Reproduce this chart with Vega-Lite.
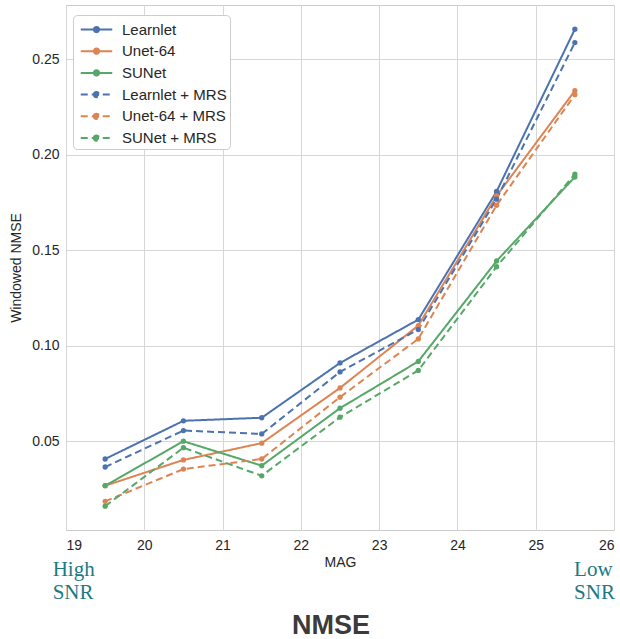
{
  "$schema": "https://vega.github.io/schema/vega-lite/v6.json",
  "width": 548,
  "height": 525,
  "autosize": {"type": "none"},
  "padding": {"left": 66, "top": 5, "right": 6, "bottom": 109},
  "background": "white",
  "title": {
    "text": "NMSE",
    "orient": "bottom",
    "anchor": "middle",
    "font": "Liberation Sans",
    "fontSize": 27,
    "fontWeight": "bold",
    "color": "#3d3a3a",
    "offset": 10,
    "dx": -9
  },
  "config": {
    "view": {"stroke": "#cccccc", "strokeWidth": 1},
    "axis": {
      "labelFont": "Liberation Sans",
      "titleFont": "Liberation Sans",
      "labelFontSize": 14,
      "titleFontSize": 14,
      "titleFontWeight": "normal",
      "labelColor": "#262626",
      "titleColor": "#262626",
      "gridColor": "#d6d6d6",
      "gridWidth": 1,
      "domain": false,
      "ticks": false
    },
    "legend": {
      "labelFont": "Liberation Sans",
      "labelFontSize": 15,
      "labelColor": "#262626"
    }
  },
  "datasets": {
    "series": [
      {"MAG": 19.5, "NMSE": 0.0407, "model": "Learnlet"},
      {"MAG": 20.5, "NMSE": 0.0607, "model": "Learnlet"},
      {"MAG": 21.5, "NMSE": 0.0623, "model": "Learnlet"},
      {"MAG": 22.5, "NMSE": 0.0910, "model": "Learnlet"},
      {"MAG": 23.5, "NMSE": 0.1137, "model": "Learnlet"},
      {"MAG": 24.5, "NMSE": 0.1808, "model": "Learnlet"},
      {"MAG": 25.5, "NMSE": 0.2658, "model": "Learnlet"},
      {"MAG": 19.5, "NMSE": 0.0267, "model": "Unet-64"},
      {"MAG": 20.5, "NMSE": 0.0402, "model": "Unet-64"},
      {"MAG": 21.5, "NMSE": 0.0490, "model": "Unet-64"},
      {"MAG": 22.5, "NMSE": 0.0779, "model": "Unet-64"},
      {"MAG": 23.5, "NMSE": 0.1106, "model": "Unet-64"},
      {"MAG": 24.5, "NMSE": 0.1785, "model": "Unet-64"},
      {"MAG": 25.5, "NMSE": 0.2336, "model": "Unet-64"},
      {"MAG": 19.5, "NMSE": 0.0267, "model": "SUNet"},
      {"MAG": 20.5, "NMSE": 0.0500, "model": "SUNet"},
      {"MAG": 21.5, "NMSE": 0.0372, "model": "SUNet"},
      {"MAG": 22.5, "NMSE": 0.0673, "model": "SUNet"},
      {"MAG": 23.5, "NMSE": 0.0918, "model": "SUNet"},
      {"MAG": 24.5, "NMSE": 0.1444, "model": "SUNet"},
      {"MAG": 25.5, "NMSE": 0.1884, "model": "SUNet"},
      {"MAG": 19.5, "NMSE": 0.0365, "model": "Learnlet + MRS"},
      {"MAG": 20.5, "NMSE": 0.0556, "model": "Learnlet + MRS"},
      {"MAG": 21.5, "NMSE": 0.0538, "model": "Learnlet + MRS"},
      {"MAG": 22.5, "NMSE": 0.0863, "model": "Learnlet + MRS"},
      {"MAG": 23.5, "NMSE": 0.1085, "model": "Learnlet + MRS"},
      {"MAG": 24.5, "NMSE": 0.1768, "model": "Learnlet + MRS"},
      {"MAG": 25.5, "NMSE": 0.2588, "model": "Learnlet + MRS"},
      {"MAG": 19.5, "NMSE": 0.0185, "model": "Unet-64 + MRS"},
      {"MAG": 20.5, "NMSE": 0.0354, "model": "Unet-64 + MRS"},
      {"MAG": 21.5, "NMSE": 0.0407, "model": "Unet-64 + MRS"},
      {"MAG": 22.5, "NMSE": 0.0731, "model": "Unet-64 + MRS"},
      {"MAG": 23.5, "NMSE": 0.1036, "model": "Unet-64 + MRS"},
      {"MAG": 24.5, "NMSE": 0.1736, "model": "Unet-64 + MRS"},
      {"MAG": 25.5, "NMSE": 0.2315, "model": "Unet-64 + MRS"},
      {"MAG": 19.5, "NMSE": 0.0160, "model": "SUNet + MRS"},
      {"MAG": 20.5, "NMSE": 0.0466, "model": "SUNet + MRS"},
      {"MAG": 21.5, "NMSE": 0.0319, "model": "SUNet + MRS"},
      {"MAG": 22.5, "NMSE": 0.0626, "model": "SUNet + MRS"},
      {"MAG": 23.5, "NMSE": 0.0871, "model": "SUNet + MRS"},
      {"MAG": 24.5, "NMSE": 0.1414, "model": "SUNet + MRS"},
      {"MAG": 25.5, "NMSE": 0.1899, "model": "SUNet + MRS"}
    ],
    "notes": [
      {"MAG": 18.83, "NMSE": -0.0176, "label": "High"},
      {"MAG": 18.83, "NMSE": -0.0297, "label": "SNR"},
      {"MAG": 25.49, "NMSE": -0.0176, "label": "Low"},
      {"MAG": 25.49, "NMSE": -0.0297, "label": "SNR"}
    ]
  },
  "layer": [
    {
      "data": {"name": "series"},
      "mark": {"type": "line", "strokeWidth": 2},
      "encoding": {
        "x": {
          "field": "MAG", "type": "quantitative",
          "scale": {"domain": [19, 26], "nice": false, "zero": false},
          "axis": {"values": [19, 20, 21, 22, 23, 24, 25, 26], "title": "MAG", "labelPadding": 8, "titlePadding": 3, "format": "d"}
        },
        "y": {
          "field": "NMSE", "type": "quantitative",
          "scale": {"domain": [0.0035, 0.2785], "nice": false, "zero": false},
          "axis": {"values": [0.05, 0.1, 0.15, 0.2, 0.25], "format": ".2f", "title": "Windowed NMSE", "labelPadding": 7, "titlePadding": 8}
        },
        "color": {
          "field": "model", "type": "nominal",
          "scale": {
            "domain": ["Learnlet", "Unet-64", "SUNet", "Learnlet + MRS", "Unet-64 + MRS", "SUNet + MRS"],
            "range": ["#4c72b0", "#dd8452", "#55a868", "#4c72b0", "#dd8452", "#55a868"]
          },
          "legend": {
            "title": null,
            "orient": "none",
            "legendX": 7,
            "legendY": 10,
            "padding": 3,
            "fillColor": "white",
            "strokeColor": "#cccccc",
            "cornerRadius": 4,
            "symbolType": "M-1.5,0L1.5,0M-0.25,0A0.25,0.25,0,1,1,0.25,0A0.25,0.25,0,1,1,-0.25,0",
            "symbolSize": 441,
            "symbolStrokeWidth": 2,
            "symbolOffset": 9,
            "labelOffset": 14,
            "rowPadding": 1.7,
            "encode": {"symbols": {"update": {"fill": {"scale": "color", "field": "value"}}}}
          }
        },
        "strokeDash": {
          "field": "model", "type": "nominal",
          "scale": {
            "domain": ["Learnlet", "Unet-64", "SUNet", "Learnlet + MRS", "Unet-64 + MRS", "SUNet + MRS"],
            "range": [[1, 0], [1, 0], [1, 0], [7, 4], [7, 4], [7, 4]]
          },
          "legend": {
            "title": null,
            "orient": "none",
            "legendX": 7,
            "legendY": 10,
            "padding": 3,
            "fillColor": "white",
            "strokeColor": "#cccccc",
            "cornerRadius": 4,
            "symbolType": "M-1.5,0L1.5,0M-0.25,0A0.25,0.25,0,1,1,0.25,0A0.25,0.25,0,1,1,-0.25,0",
            "symbolSize": 441,
            "symbolStrokeWidth": 2,
            "symbolOffset": 9,
            "labelOffset": 14,
            "rowPadding": 1.7,
            "encode": {"symbols": {"update": {"fill": {"scale": "color", "field": "value"}}}}
          }
        }
      }
    },
    {
      "data": {"name": "series"},
      "mark": {"type": "point", "filled": true, "size": 28, "opacity": 1},
      "encoding": {
        "x": {"field": "MAG", "type": "quantitative"},
        "y": {"field": "NMSE", "type": "quantitative"},
        "color": {"field": "model", "type": "nominal", "legend": null}
      }
    },
    {
      "data": {"name": "notes"},
      "mark": {"type": "text", "align": "left", "baseline": "middle", "font": "Liberation Serif", "fontSize": 21, "color": "#1b7a85", "clip": false},
      "encoding": {
        "x": {"field": "MAG", "type": "quantitative"},
        "y": {"field": "NMSE", "type": "quantitative"},
        "text": {"field": "label"}
      }
    }
  ]
}
